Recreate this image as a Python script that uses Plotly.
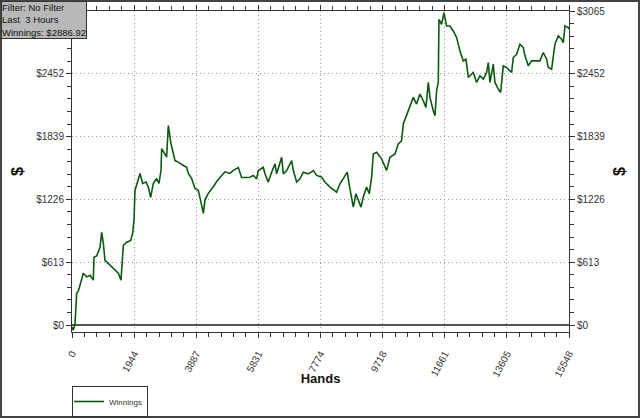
import plotly.graph_objects as go

hands = [0, 40, 94, 146, 198, 302, 354, 459, 563, 667, 688, 772, 876, 928, 980, 1032, 1137, 1293, 1449, 1533,
         1606, 1710, 1835, 1897, 1939, 1971, 2075, 2127, 2210, 2315, 2388, 2461, 2544, 2648, 2721, 2784, 2805,
         2909, 2961, 3013, 3097, 3222, 3326, 3482, 3587, 3639, 3743, 3847, 3951, 4056, 4108, 4160, 4264, 4420,
         4525, 4681, 4785, 4942, 5046, 5202, 5306, 5462, 5567, 5671, 5775, 5827, 5984, 6037, 6141, 6245, 6350,
         6402, 6559, 6610, 6715, 6872, 6924, 7028, 7132, 7236, 7393, 7549, 7654, 7810, 7914, 8070, 8279, 8383,
         8487, 8612, 8675, 8748, 8800, 8883, 8956, 9040, 9112, 9217, 9300, 9373, 9425, 9530, 9686, 9842, 9946,
         10103, 10207, 10312, 10364, 10468, 10572, 10676, 10780, 10885, 10989, 11073, 11146, 11198, 11302,
         11355, 11407, 11459, 11480, 11563, 11636, 11719, 11824, 11928, 12032, 12136, 12241, 12324, 12397,
         12553, 12658, 12762, 12866, 12971, 13023, 13075, 13179, 13231, 13336, 13409, 13492, 13597, 13701,
         13753, 13805, 13909, 14014, 14118, 14170, 14275, 14379, 14535, 14639, 14743, 14848, 14900, 15004,
         15108, 15212, 15317, 15369, 15421, 15525, 15548]
winnings = [-20, -50, 10, 311, 330, 467, 506, 470, 486, 438, 662, 675, 759, 905, 798, 632, 600, 555, 506, 438,
            778, 808, 826, 895, 1022, 1314, 1440, 1479, 1382, 1395, 1347, 1245, 1382, 1430, 1382, 1508, 1722,
            1673, 1640, 1946, 1771, 1605, 1590, 1557, 1540, 1479, 1430, 1333, 1316, 1168, 1090, 1220, 1285, 1350,
            1400, 1460, 1495, 1480, 1510, 1537, 1440, 1440, 1443, 1460, 1427, 1508, 1540, 1476, 1395, 1492, 1573,
            1476, 1638, 1476, 1508, 1605, 1508, 1395, 1427, 1492, 1476, 1508, 1460, 1443, 1395, 1346, 1297, 1379,
            1427, 1492, 1362, 1249, 1151, 1281, 1216, 1151, 1249, 1346, 1281, 1443, 1670, 1686, 1622, 1508, 1638,
            1670, 1768, 1800, 1962, 2043, 2124, 2222, 2157, 2254, 2189, 2124, 2368, 2222, 2092,
            2043, 2287, 2368, 2984, 2934, 3050, 2919, 2919, 2870, 2805, 2676, 2578, 2595, 2416,
            2465, 2368, 2433, 2400, 2465, 2562, 2368, 2546, 2368, 2303, 2270, 2530, 2513, 2481,
            2465, 2611, 2643, 2741, 2708, 2627, 2530, 2578, 2578, 2578, 2660, 2595, 2513, 2497,
            2741, 2822, 2789, 2757, 2919, 2903, 2887]

x_ticks = [0, 1944, 3887, 5831, 7774, 9718, 11661, 13605, 15548]
y_ticks = [0, 613, 1226, 1839, 2452, 3065]
y_tick_labels = ["$0", "$613", "$1226", "$1839", "$2452", "$3065"]
info_lines = ["Filter: No Filter", "Last  3 Hours", "Winnings: $2886.92"]

W, H = 640, 418
ML, MR, MT, MB = 72, 71, 11, 86
PW, PH = W - ML - MR, H - MT - MB

FONT = "Liberation Sans, Arial, sans-serif"
GREEN = "#0b5a10"
GRID_DASH = "1px,3px"

fig = go.Figure()
fig.add_trace(go.Scatter(x=hands, y=winnings, mode="lines", name="Winnings",
                         line=dict(color=GREEN, width=1.6)))
fig.add_trace(go.Scatter(x=hands, y=winnings, mode="lines", yaxis="y2", showlegend=False,
                         hoverinfo="skip", opacity=0, line=dict(width=0)))

axis_common = dict(showline=True, linecolor="#333", linewidth=1, ticks="outside", automargin=False,
                   tickcolor="#333", ticklen=5, tickfont=dict(family=FONT, size=10, color="#333"))

fig.update_layout(
    width=W, height=H,
    margin=dict(l=ML, r=MR, t=MT, b=MB, autoexpand=False),
    paper_bgcolor="white", plot_bgcolor="white",
    font=dict(family=FONT, color="#222"),
    xaxis=dict(range=[0, 15548], tickvals=x_ticks, ticktext=[str(v) for v in x_ticks],
               tickangle=-62, mirror="ticks", showgrid=True, gridcolor="#999", griddash=GRID_DASH,
               gridwidth=1, zeroline=False, ticklabelstandoff=6,
               minor=dict(dtick=1944 / 5, tick0=0, ticks="outside", ticklen=4, tickcolor="#333"),
               title=dict(text="<b>Hands</b>", font=dict(family=FONT, size=13, color="#111"), standoff=10),
               **axis_common),
    yaxis=dict(range=[-68, 3065], tickvals=y_ticks, ticktext=y_tick_labels, mirror=False,
               showgrid=True, gridcolor="#999", griddash=GRID_DASH, gridwidth=1,
               zeroline=True, zerolinecolor="#555", zerolinewidth=1.5,
               minor=dict(dtick=613 / 5, tick0=0, ticks="outside", ticklen=4, tickcolor="#333"),
               title=dict(text="<b>$</b>", font=dict(family=FONT, size=16, color="#111"), standoff=8),
               **axis_common),
    yaxis2=dict(range=[-68, 3065], overlaying="y", side="right", tickvals=y_ticks,
                ticktext=y_tick_labels, showgrid=False, zeroline=False,
                minor=dict(dtick=613 / 5, tick0=0, ticks="outside", ticklen=4, tickcolor="#333"),
                title=dict(text="<b>$</b>", font=dict(family=FONT, size=16, color="#111"), standoff=9),
                **axis_common),
    legend=dict(x=0, xanchor="left", yref="container", y=1 - 386 / H, yanchor="top",
                bordercolor="#333", borderwidth=1, bgcolor="white",
                font=dict(family=FONT, size=8, color="#333"), itemwidth=30,
                tracegroupgap=0, indentation=-4),
    showlegend=True,
)

# info box top-left
fig.add_annotation(
    xref="paper", yref="paper", x=(1 - ML) / PW, y=(H - MB - 1) / PH,
    xanchor="left", yanchor="top", showarrow=False, align="left",
    text="<br>".join(info_lines),
    font=dict(family=FONT, size=9.5, color="#111"),
    bgcolor="#b9b9b9", bordercolor="#333", borderwidth=1, borderpad=0,
)

# outer frame
fig.add_shape(type="rect", xref="paper", yref="paper",
              x0=(1 - ML) / PW, x1=(W - 1 - ML) / PW,
              y0=(1 - MB) / PH, y1=(H - MB - 1) / PH,
              line=dict(color="#444", width=2), fillcolor="rgba(0,0,0,0)", layer="above")

fig.write_html("out.html", config={"displayModeBar": False},
               post_script="document.body.style.margin='0';document.body.style.overflow='hidden';")
